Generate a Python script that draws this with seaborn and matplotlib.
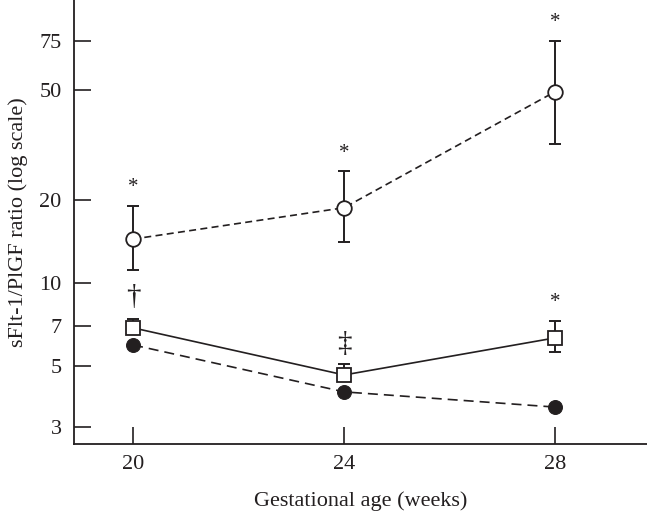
import matplotlib
matplotlib.use("Agg")
import matplotlib.pyplot as plt
import seaborn as sns
import numpy as np
import pandas as pd

weeks = [20, 24, 28]

# open circles (dashed)
open_mean = [14.4, 18.7, 49.2]
open_low = [11.1, 14.1, 31.9]
open_high = [19.0, 25.3, 75.3]
open_marks = ["*", "*", "*"]

# open squares (solid)
sq_mean = [6.87, 4.64, 6.32]
sq_low = [6.6, 4.5, 5.62]
sq_high = [7.4, 5.09, 7.28]
sq_marks = ["\u2020", "\u2021", "*"]

# filled circles (long dashes)
filled_mean = [5.96, 4.03, 3.55]

ytick_vals = [3, 5, 7, 10, 20, 50, 75]
xtick_vals = [20, 24, 28]

sns.set_theme(style="ticks")
plt.rcParams["font.family"] = ["Liberation Serif", "DejaVu Serif"]
ink = "#231f20"

fig = plt.figure(figsize=(6.47, 5.14), dpi=100)
ax = fig.add_axes([74 / 647, 70 / 514, 1 - 74 / 647, 1 - 70 / 514])

df = pd.DataFrame({"week": weeks, "open": open_mean, "sq": sq_mean, "filled": filled_mean})

# error bars
for mean, lo, hi in [(open_mean, open_low, open_high), (sq_mean, sq_low, sq_high)]:
    m = np.array(mean)
    yerr = [m - np.array(lo), np.array(hi) - m]
    ax.errorbar(weeks, m, yerr=yerr, fmt="none", ecolor=ink, elinewidth=1.4,
                capsize=4, capthick=1.4, zorder=2)

sns.lineplot(data=df, x="week", y="filled", ax=ax, color=ink, lw=1.2,
             linestyle=(0, (6, 3.6)), marker="o", markersize=10,
             markerfacecolor=ink, markeredgecolor=ink, zorder=3)
sns.lineplot(data=df, x="week", y="sq", ax=ax, color=ink, lw=1.2,
             linestyle="-", marker="s", markersize=9.5,
             markerfacecolor="white", markeredgecolor=ink, markeredgewidth=1.3, zorder=4)
sns.lineplot(data=df, x="week", y="open", ax=ax, color=ink, lw=1.2,
             linestyle=(0, (4.2, 2.6)), marker="o", markersize=10.5,
             markerfacecolor="white", markeredgecolor=ink, markeredgewidth=1.3, zorder=4)

offsets = {"*": 13, "\u2020": 15.5, "\u2021": 14}
for xs, hs, ms in [(weeks, open_high, open_marks), (weeks, sq_high, sq_marks)]:
    for x, h, mk in zip(xs, hs, ms):
        star = mk == "*"
        ax.annotate(mk, (x, h), xytext=(0, offsets[mk]), textcoords="offset points",
                    ha="center", va="center", fontsize=15 if star else 21,
                    color=ink)

ax.set_yscale("log")
ax.set_ylim(2.61, 105.6)
ax.set_xlim(18.88, 29.74)
ax.set_yticks(ytick_vals)
ax.set_yticklabels([str(v) for v in ytick_vals])
ax.minorticks_off()
ax.set_xticks(xtick_vals)
ax.set_xticklabels([str(v) for v in xtick_vals])
ax.tick_params(direction="in", length=12, width=1.2, colors=ink, labelsize=16, pad=8)
ax.tick_params(axis="y", pad=9)
for s in ["top", "right"]:
    ax.spines[s].set_visible(False)
for s in ["left", "bottom"]:
    ax.spines[s].set_color(ink)
    ax.spines[s].set_linewidth(1.3)

ax.set_xlabel("Gestational age (weeks)", fontsize=16, color=ink, labelpad=12)
ax.set_ylabel("sFlt-1/PlGF ratio (log scale)", fontsize=16, color=ink, labelpad=8)

fig.savefig("out.png", dpi=100)
